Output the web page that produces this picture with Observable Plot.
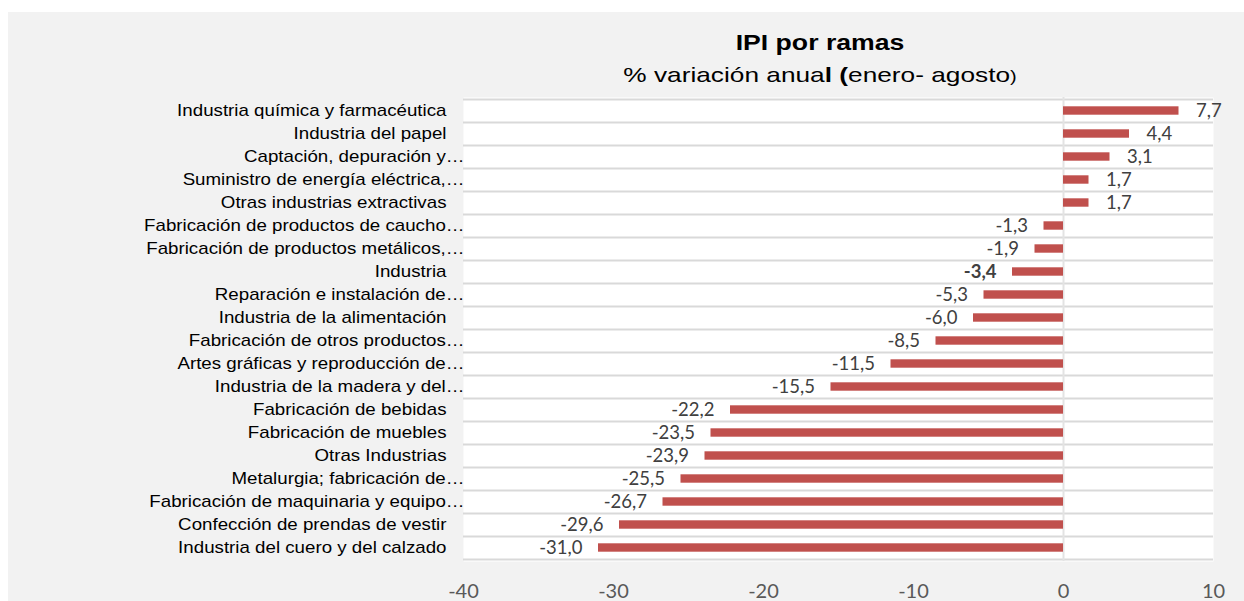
<!DOCTYPE html>
<html>
<head>
<meta charset="utf-8">
<script src="https://cdn.jsdelivr.net/npm/d3@7"></script>
<script src="https://cdn.jsdelivr.net/npm/@observablehq/plot@0.6"></script>
<style>
  html, body { margin: 0; padding: 0; background: #ffffff; }
  #panel { position: absolute; left: 8px; top: 12px; width: 1236px; height: 589px; background: #f2f2f2; overflow: hidden; }
  .head { position: absolute; left: 812px; white-space: nowrap; font-family: "Liberation Sans", Arial, sans-serif; color: #000; line-height: 28px; }
  #title { top: 17px; font-weight: bold; font-size: 22px; transform: translateX(-50%) scaleX(1.21); }
  #subtitle { top: 49px; font-size: 21px; transform: translateX(-50%) scaleX(1.25); }
  #subtitle .small { font-size: 16px; }
  #chart { position: absolute; left: 0; top: 0; }
</style>
</head>
<body>
<div id="panel">
  <div id="chart"></div>
  <div id="title" class="head">IPI por ramas</div>
  <div id="subtitle" class="head">% variación anua<b>l (</b>enero- agosto<span class="small">)</span></div>
</div>
<script>
const categories = [
  "Industria química y farmacéutica",
  "Industria del papel",
  "Captación, depuración y…",
  "Suministro de energía eléctrica,…",
  "Otras industrias extractivas",
  "Fabricación de productos de caucho…",
  "Fabricación de productos metálicos,…",
  "Industria",
  "Reparación e instalación de…",
  "Industria de la alimentación",
  "Fabricación de otros productos…",
  "Artes gráficas y reproducción de…",
  "Industria de la madera y del…",
  "Fabricación de bebidas",
  "Fabricación de muebles",
  "Otras Industrias",
  "Metalurgia; fabricación de…",
  "Fabricación de maquinaria y equipo…",
  "Confección de prendas de vestir",
  "Industria del cuero y del calzado"
];
const values = [7.7, 4.4, 3.1, 1.7, 1.7, -1.3, -1.9, -3.4, -5.3, -6.0, -8.5, -11.5, -15.5, -22.2, -23.5, -23.9, -25.5, -26.7, -29.6, -31.0];
const xTicks = [-40, -30, -20, -10, 0, 10];
const highlight = "Industria";

const data = categories.map((c, i) => ({cat: c, value: values[i]}));
const fmt = v => v.toFixed(1).replace(".", ",");
const numFont = "Lato, 'Open Sans', sans-serif";
const catFont = "'Liberation Sans', Arial, sans-serif";

const W = 1236, H = 589, mT = 85, mB = 40, mL = 455, mR = 31;
const step = (H - mT - mB) / categories.length;

const chart = Plot.plot({
  width: W,
  height: H,
  marginTop: mT,
  marginBottom: mB,
  marginLeft: mL,
  marginRight: mR,
  style: {background: "transparent", overflow: "visible"},
  x: {domain: [-40, 10], ticks: xTicks},
  y: {domain: categories, padding: 0, axis: null},
  marks: [
    Plot.frame({fill: "#ffffff", stroke: null}),
    Plot.ruleY(categories, {y: d => d, x1: -40, x2: 10, dy: -step / 2, stroke: "#d9d9d9", strokeWidth: 2}),
    Plot.ruleY([categories[categories.length - 1]], {y: d => d, x1: -40, x2: 10, dy: step / 2, stroke: "#d9d9d9", strokeWidth: 2}),
    Plot.ruleX([0], {stroke: "#e3e3e3", strokeWidth: 2}),
    Plot.barX(data, {x1: 0, x2: "value", y: "cat", fill: "#c0504d", insetTop: 7.3, insetBottom: 7.3}),
    Plot.text(data.filter(d => d.value >= 0), {x: "value", y: "cat", text: d => fmt(d.value), textAnchor: "start", dx: 17, fontSize: 18.5, fontFamily: numFont, fill: "#404040"}),
    Plot.text(data.filter(d => d.value < 0 && d.cat !== highlight), {x: "value", y: "cat", text: d => fmt(d.value), textAnchor: "end", dx: -16, fontSize: 18.5, fontFamily: numFont, fill: "#404040"}),
    Plot.text(data.filter(d => d.cat === highlight), {x: "value", y: "cat", text: d => fmt(d.value), textAnchor: "end", dx: -16, fontSize: 18.5, fontWeight: "bold", fontFamily: numFont, fill: "#404040"}),
    Plot.text(categories.filter(c => c.endsWith("…")), {x: -40, y: d => d, text: d => d, textAnchor: "end", dx: 1, fontSize: 16, fontFamily: catFont, fill: "#000000"}),
    Plot.text(categories.filter(c => !c.endsWith("…")), {x: -40, y: d => d, text: d => d, textAnchor: "end", dx: -17, fontSize: 16, fontFamily: catFont, fill: "#000000"}),
    Plot.axisX({ticks: xTicks, tickFormat: d => String(d), tickSize: 0, tickPadding: 22, fontSize: 20, fontFamily: numFont, color: "#595959", label: null})
  ]
});
// widen the category labels horizontally to match the reference's stretched Arial
const catSet = new Set(categories);
chart.querySelectorAll("text").forEach(t => {
  if (catSet.has(t.textContent)) {
    const tr = t.getAttribute("transform") || "";
    if (tr) t.setAttribute("transform", tr + " scale(1.17,1)");
    else {
      const x = +t.getAttribute("x") || 0, y = +t.getAttribute("y") || 0;
      t.setAttribute("transform", `translate(${x},${y}) scale(1.17,1) translate(${-x},${-y})`);
    }
  }
});
document.getElementById("chart").appendChild(chart);
</script>
</body>
</html>
